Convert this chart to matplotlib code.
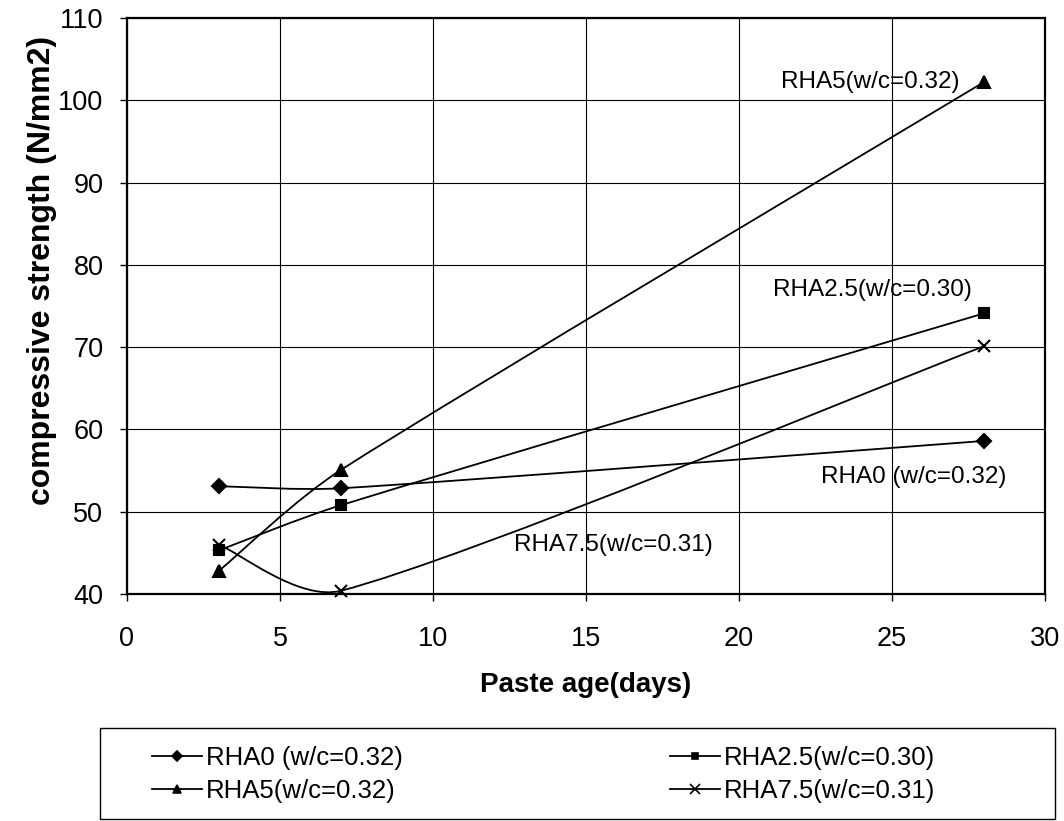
import numpy as np
import matplotlib
matplotlib.use('Agg')
import matplotlib.pyplot as plt
from matplotlib.path import Path
from matplotlib.patches import PathPatch, Rectangle
from matplotlib.lines import Line2D

plt.rcParams['font.family'] = ['Liberation Sans', 'DejaVu Sans']

# data
age_days = [3, 7, 28]
rha0 = [53.1, 52.85, 58.6]
rha25 = [45.3, 50.8, 74.1]
rha5 = [42.8, 55.1, 102.2]
rha75 = [46.0, 40.4, 70.1]

series_labels = ['RHA0 (w/c=0.32)', 'RHA2.5(w/c=0.30)',
                 'RHA5(w/c=0.32)', 'RHA7.5(w/c=0.31)']
series_values = [rha0, rha25, rha5, rha75]
series_markers = ['D', 's', '^', 'x']
marker_sizes = [7, 6.5, 8, 9]

# where the in-plot labels sit (data coords)
label_pos = [(25.7, 54.2), (24.35, 76.9), (24.3, 102.2), (15.9, 46.0)]


def smooth_curve(ax, xs, ys, **kw):
    # Excel-like smoothed line: cubic bezier through the points,
    # control points computed in screen space
    pts = ax.transData.transform(np.column_stack([xs, ys]))
    n = len(pts)
    verts = [pts[0]]
    codes = [Path.MOVETO]
    for i in range(n - 1):
        p0 = pts[i - 1] if i > 0 else pts[i]
        p1 = pts[i]
        p2 = pts[i + 1]
        p3 = pts[i + 2] if i + 2 < n else pts[i + 1]
        seg = np.linalg.norm(p2 - p1)
        t1 = (p2 - p0) / 6.0
        t2 = (p3 - p1) / 6.0
        for t in (t1, t2):
            ln = np.linalg.norm(t)
            if ln > seg / 3.0:
                t *= (seg / 3.0) / ln
        verts += [p1 + t1, p2 - t2, p2]
        codes += [Path.CURVE4] * 3
    verts = ax.transData.inverted().transform(np.array(verts))
    patch = PathPatch(Path(verts, codes), fill=False, **kw)
    ax.add_patch(patch)
    return patch


W, H = 1064, 821
fig = plt.figure(figsize=(W / 100, H / 100), dpi=100)
ax = fig.add_axes([127 / W, 1 - 594 / H, (1045 - 127) / W, (594 - 18) / H])
ax.set_xlim(0, 30)
ax.set_ylim(40, 110)
ax.set_xticks(range(0, 31, 5))
ax.set_yticks(range(40, 111, 10))
ax.grid(True, color='black', lw=0.8)
ax.set_axisbelow(True)
for sp in ax.spines.values():
    sp.set_color('black')
    sp.set_linewidth(1.6)
ax.tick_params(direction='out', length=5, width=1, labelsize=19.5)
ax.tick_params(axis='x', pad=18)
ax.tick_params(axis='y', pad=12)

for vals, mk, ms in zip(series_values, series_markers, marker_sizes):
    smooth_curve(ax, age_days, vals, edgecolor='black', lw=1.3, zorder=3)
    ax.plot(age_days, vals, ls='none', marker=mk, ms=ms, color='black',
            mew=1.5, zorder=4, clip_on=False)

for lab, (lx, ly) in zip(series_labels, label_pos):
    ax.text(lx, ly, lab, fontsize=17.5, ha='center', va='center', zorder=5)

ax.set_xlabel('Paste age(days)', fontsize=20, fontweight='bold')
ax.set_ylabel('compressive strength (N/mm2)', fontsize=23, fontweight='bold')
ax.xaxis.set_label_coords(0.5, -0.135)
ax.yaxis.set_label_coords(-0.076, 0.5625)

handles = [Line2D([], [], color='black', lw=1.3, marker=mk, ms=ms * 0.75, mew=1.2)
           for mk, ms in zip(series_markers, marker_sizes)]
# row 1 -> RHA0, RHA2.5 ; row 2 -> RHA5, RHA7.5 (column-major for ncol=2)
order = [0, 2, 1, 3]
fig.legend([handles[i] for i in order], [series_labels[i] for i in order],
           ncol=2, loc='upper left', bbox_to_anchor=(152 / W, 1 - 746 / H),
           fontsize=18.5, frameon=False, borderpad=0, borderaxespad=0,
           handlelength=1.95, handletextpad=0.15, labelspacing=0.35,
           columnspacing=10.4)
# legend frame
fig.patches.append(Rectangle((100 / W, 1 - 819 / H), 955 / W, 91 / H,
                             transform=fig.transFigure, fill=False,
                             edgecolor='black', lw=1.0))

fig.savefig('out.png', dpi=100, facecolor='white')
